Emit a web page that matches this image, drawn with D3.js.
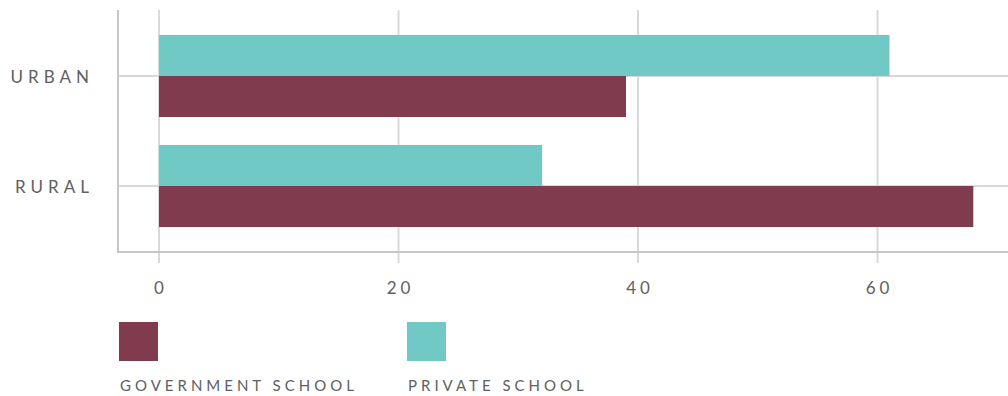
<!DOCTYPE html>
<html>
<head>
<meta charset="utf-8">
<script src="https://cdn.jsdelivr.net/npm/d3@7"></script>
<style>
  body { margin: 0; background: #fff; }
  text { font-family: Lato, "Noto Sans", sans-serif; fill: #606060; }
</style>
</head>
<body>
<svg id="chart" width="1008" height="396"></svg>
<script>
    // categories and series
    var categories = ['URBAN', 'RURAL'];
    var seriesNames = ['PRIVATE SCHOOL', 'GOVERNMENT SCHOOL'];
    var privateValues = [61, 32];
    var governmentValues = [39, 68];
    var xTicks = [0, 20, 40, 60];
    var legendOrder = ['GOVERNMENT SCHOOL', 'PRIVATE SCHOOL'];

    var colors = { 'PRIVATE SCHOOL': '#71c9c6', 'GOVERNMENT SCHOOL': '#803b4e' };

    var svg = d3.select('#chart');

    var plotLeft = 118, plotTop = 10, plotBottom = 252, plotRight = 1008;

    // build rows for the grouped bars
    var P_data = categories.map(function(c, i) {
        return { cat: c, 'PRIVATE SCHOOL': privateValues[i], 'GOVERNMENT SCHOOL': governmentValues[i] };
    });

    var xScale = d3.scaleLinear()
                   .domain([0, 70])
                   .range([159, 159 + 70 * 11.975]);

    var yScale0 = d3.scaleBand()
                    .domain(categories)
                    .range([plotTop, plotBottom])
                    .paddingInner(28 / 110)
                    .paddingOuter(0.227);

    var yScale1 = d3.scaleBand()
                    .domain(seriesNames)
                    .range([0, yScale0.bandwidth()]);

    // vertical grid lines (extend down as ticks)
    svg.append('g')
       .selectAll('line')
       .data(xTicks)
       .enter()
       .append('line')
       .attr('x1', function(d) { return xScale(d); })
       .attr('x2', function(d) { return xScale(d); })
       .attr('y1', plotTop)
       .attr('y2', plotBottom + 11)
       .attr('stroke', '#d9d9d9')
       .attr('stroke-width', 2);

    // horizontal grid lines at category centres
    svg.append('g')
       .selectAll('line')
       .data(categories)
       .enter()
       .append('line')
       .attr('x1', plotLeft)
       .attr('x2', plotRight)
       .attr('y1', function(d) { return yScale0(d) + yScale0.bandwidth() / 2; })
       .attr('y2', function(d) { return yScale0(d) + yScale0.bandwidth() / 2; })
       .attr('stroke', '#d9d9d9')
       .attr('stroke-width', 2);

    // bars
    var band = svg.append('g')
                  .selectAll('g')
                  .data(P_data)
                  .enter().append('g')
                  .attr('transform', function(d) { return 'translate(0,' + yScale0(d.cat) + ')'; });

    band.selectAll('rect')
        .data(function(d) { return seriesNames.map(function(key) { return { key: key, value: d[key] }; }); })
        .enter()
        .append('rect')
          .attr('x', xScale(0))
          .attr('y', function(d) { return yScale1(d.key); })
          .attr('width', function(d) { return xScale(d.value) - xScale(0); })
          .attr('height', yScale1.bandwidth())
          .attr('fill', function(d) { return colors[d.key]; });

    // axis lines
    svg.append('line')
       .attr('x1', plotLeft).attr('x2', plotLeft)
       .attr('y1', plotTop).attr('y2', plotBottom + 1)
       .attr('stroke', '#c6c6c6')
       .attr('stroke-width', 2);

    svg.append('line')
       .attr('x1', plotLeft - 1).attr('x2', plotRight)
       .attr('y1', plotBottom).attr('y2', plotBottom)
       .attr('stroke', '#c6c6c6')
       .attr('stroke-width', 2);

    // x tick labels
    svg.append('g')
       .selectAll('text')
       .data(xTicks)
       .enter()
       .append('text')
       .attr('x', function(d) { return xScale(d) + 2; })
       .attr('y', 294)
       .attr('text-anchor', 'middle')
       .attr('font-size', '17px')
       .style('letter-spacing', '4px')
       .text(function(d) { return d; });

    // y category labels
    svg.append('g')
       .selectAll('text')
       .data(categories)
       .enter()
       .append('text')
       .attr('x', 94)
       .attr('y', function(d) { return yScale0(d) + yScale0.bandwidth() / 2 + 3; })
       .attr('text-anchor', 'end')
       .attr('dominant-baseline', 'middle')
       .attr('font-size', '17px')
       .style('letter-spacing', '5px')
       .text(function(d) { return d; });

    // legend
    var legendX = d3.scalePoint().domain(legendOrder).range([119, 407]);

    var legend = svg.append('g')
                    .selectAll('g')
                    .data(legendOrder)
                    .enter().append('g')
                    .attr('transform', function(d) { return 'translate(' + legendX(d) + ',0)'; });

    legend.append('rect')
          .attr('x', 0)
          .attr('y', 322)
          .attr('width', 39)
          .attr('height', 39)
          .attr('fill', function(d) { return colors[d]; });

    legend.append('text')
          .attr('x', 1)
          .attr('y', 391)
          .attr('font-size', '15px')
          .style('letter-spacing', '4px')
          .text(function(d) { return d; });
</script>
</body>
</html>
